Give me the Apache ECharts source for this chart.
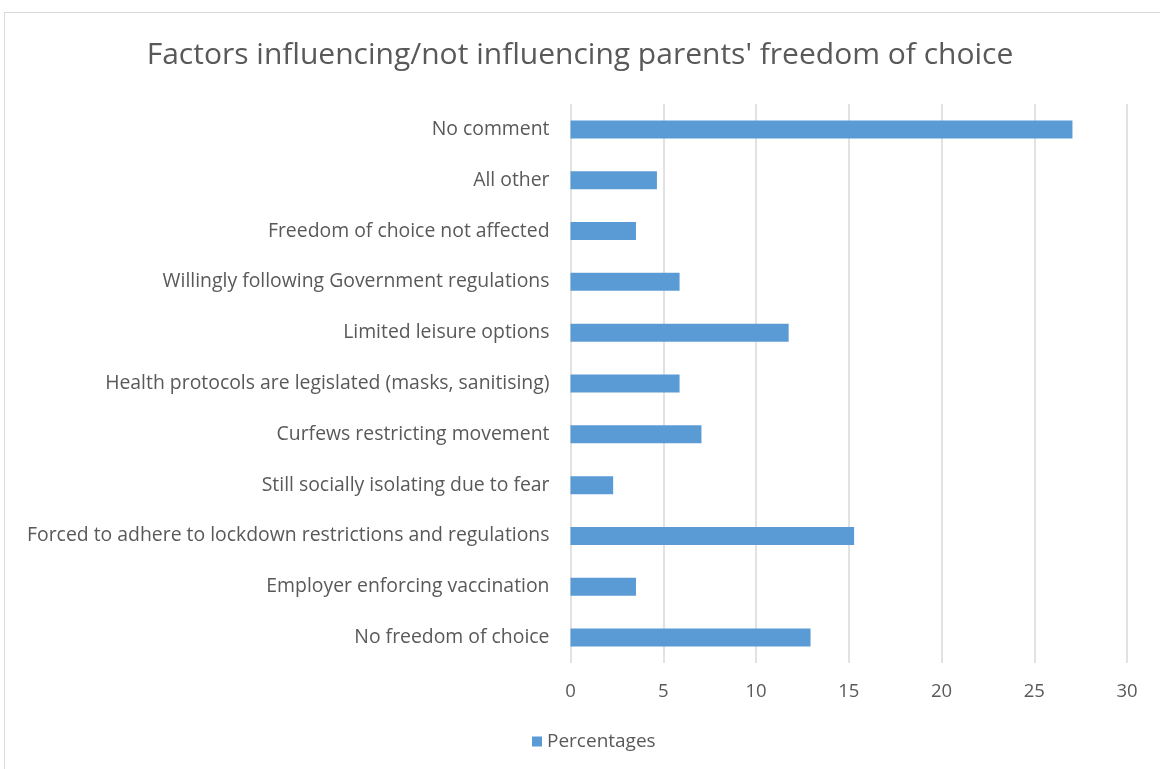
<!DOCTYPE html>
<html>
<head>
<meta charset="utf-8">
<script src="https://cdn.jsdelivr.net/npm/echarts@6/dist/echarts.min.js"></script>
<style>
  html, body { margin: 0; padding: 0; background: #ffffff; }
  #frame { position: absolute; left: 4px; top: 12px; width: 1160px; height: 770px; border: 1.5px solid #d9d9d9; box-sizing: border-box; }
  #chart { position: absolute; left: 0; top: 0; width: 1160px; height: 769px; }
</style>
</head>
<body>
<div id="frame"></div>
<div id="chart"></div>
<script>
// Responses listed top to bottom
const categories = [
  'No comment',
  'All other',
  'Freedom of choice not affected',
  'Willingly following Government regulations',
  'Limited leisure options',
  'Health protocols are legislated (masks, sanitising)',
  'Curfews restricting movement',
  'Still socially isolating due to fear',
  'Forced to adhere to lockdown restrictions and regulations',
  'Employer enforcing vaccination',
  'No freedom of choice'
];
const percentages = [27.06, 4.66, 3.53, 5.88, 11.76, 5.88, 7.06, 2.3, 15.29, 3.53, 12.94];
const xTicks = { min: 0, max: 30, interval: 5 };

const textColor = '#595959';
const fontFamily = '"Open Sans", "Liberation Sans", sans-serif';

const chart = echarts.init(document.getElementById('chart'), null, { renderer: 'canvas' });
chart.setOption({
  animation: false,
  backgroundColor: 'transparent',
  title: {
    text: "Factors influencing/not influencing parents' freedom of choice",
    left: 'center',
    top: 35,
    textStyle: { color: textColor, fontSize: 30, fontWeight: 'normal', fontFamily: fontFamily }
  },
  legend: {
    data: ['Percentages'],
    bottom: 13,
    left: 527,
    itemWidth: 10,
    itemHeight: 10,
    itemGap: 6,
    icon: 'rect',
    textStyle: { color: textColor, fontSize: 19, fontFamily: fontFamily }
  },
  grid: { left: 570.5, right: 33, top: 104, bottom: 106, containLabel: false },
  xAxis: {
    type: 'value',
    min: xTicks.min,
    max: xTicks.max,
    interval: xTicks.interval,
    axisLine: { show: false },
    axisTick: { show: false },
    axisLabel: { color: textColor, fontSize: 18.5, fontFamily: fontFamily, margin: 19 },
    splitLine: { show: true, lineStyle: { color: '#d9d9d9', width: 1.5 } }
  },
  yAxis: {
    type: 'category',
    inverse: true,
    data: categories,
    axisLine: { show: false },
    axisTick: { show: false },
    axisLabel: { color: textColor, fontSize: 19.4, fontFamily: fontFamily, margin: 21, padding: [3, 0, 0, 0] }
  },
  series: [{
    name: 'Percentages',
    type: 'bar',
    data: percentages,
    barWidth: 18,
    itemStyle: { color: '#5b9bd5' }
  }]
});
</script>
</body>
</html>
